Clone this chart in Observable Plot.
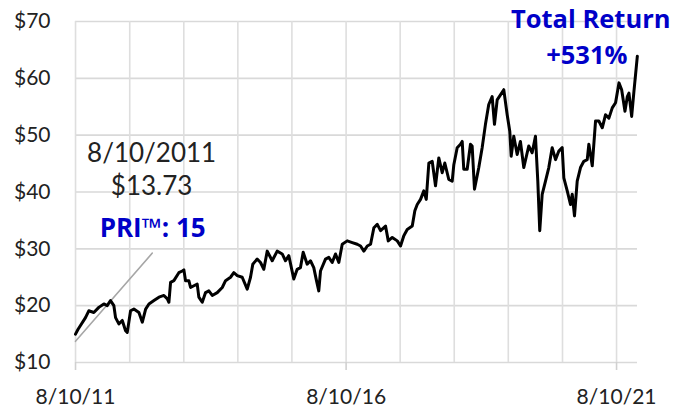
<!DOCTYPE html>
<html><head><meta charset="utf-8">
<script src="https://cdn.jsdelivr.net/npm/d3@7"></script>
<script src="https://cdn.jsdelivr.net/npm/@observablehq/plot@0.6"></script>
<style>body{margin:0;background:#fff;}</style>
</head><body><div id="chart"></div>
<script>
// Price series: decimal year, price ($)
const years = [2011.605, 2011.650, 2011.697, 2011.790, 2011.851, 2011.944, 2012.036, 2012.129, 2012.191, 2012.252,
  2012.314, 2012.345, 2012.406, 2012.469, 2012.530, 2012.561, 2012.622, 2012.683, 2012.776, 2012.839,
  2012.900, 2012.961, 2013.053, 2013.146, 2013.238, 2013.301, 2013.330, 2013.361, 2013.422, 2013.514,
  2013.577, 2013.607, 2013.638, 2013.699, 2013.731, 2013.792, 2013.854, 2013.884, 2013.947, 2014.008,
  2014.069, 2014.132, 2014.224, 2014.317, 2014.378, 2014.470, 2014.531, 2014.594, 2014.686, 2014.779,
  2014.840, 2014.882, 2014.963, 2015.025, 2015.086, 2015.149, 2015.241, 2015.333, 2015.426, 2015.487,
  2015.548, 2015.640, 2015.703, 2015.764, 2015.814, 2015.888, 2015.949, 2016.010, 2016.060, 2016.102,
  2016.134, 2016.226, 2016.287, 2016.350, 2016.411, 2016.472, 2016.535, 2016.627, 2016.720, 2016.812,
  2016.873, 2016.934, 2016.997, 2017.058, 2017.119, 2017.182, 2017.243, 2017.335, 2017.385, 2017.459,
  2017.552, 2017.612, 2017.673, 2017.736, 2017.829, 2017.877, 2017.921, 2017.982, 2018.043, 2018.088,
  2018.136, 2018.198, 2018.259, 2018.320, 2018.383, 2018.431, 2018.505, 2018.568, 2018.598, 2018.660,
  2018.721, 2018.753, 2018.782, 2018.845, 2018.906, 2018.937, 2018.980, 2019.060, 2019.122, 2019.183,
  2019.244, 2019.307, 2019.350, 2019.400, 2019.461, 2019.522, 2019.585, 2019.633, 2019.659, 2019.707,
  2019.770, 2019.830, 2019.892, 2019.984, 2020.047, 2020.108, 2020.151, 2020.187, 2020.232, 2020.293,
  2020.354, 2020.416, 2020.478, 2020.539, 2020.601, 2020.631, 2020.694, 2020.754, 2020.786, 2020.828,
  2020.878, 2020.939, 2021.000, 2021.063, 2021.093, 2021.156, 2021.217, 2021.278, 2021.341, 2021.402,
  2021.464, 2021.526, 2021.587, 2021.650, 2021.700, 2021.761, 2021.805, 2021.835, 2021.885, 2021.927,
  2021.990];
const prices = [15.0, 15.8, 16.5, 17.9, 19.1, 18.8, 19.7, 20.3, 20.0, 20.9,
  20.0, 17.9, 16.8, 17.4, 15.6, 15.3, 19.1, 19.4, 18.8, 17.1,
  19.4, 20.3, 20.9, 21.5, 21.8, 21.2, 20.6, 24.1, 24.4, 25.8,
  26.1, 26.3, 24.4, 24.4, 23.2, 23.5, 23.8, 21.5, 20.6, 22.3,
  22.6, 21.8, 22.3, 23.2, 24.4, 25.0, 25.8, 25.3, 25.0, 22.9,
  25.0, 27.3, 28.2, 27.6, 26.4, 29.6, 27.9, 29.6, 29.1, 27.9,
  28.8, 24.7, 26.4, 26.7, 29.4, 27.3, 27.9, 26.7, 24.4, 22.6,
  26.1, 28.2, 28.5, 27.6, 29.1, 27.6, 30.8, 31.4, 31.1, 30.8,
  30.5, 29.6, 30.5, 30.8, 33.7, 34.3, 33.2, 34.0, 31.4, 32.0,
  31.4, 30.5, 32.3, 33.4, 34.0, 36.7, 37.8, 38.7, 40.2, 38.7,
  45.1, 45.4, 41.1, 46.0, 43.4, 45.1, 42.2, 41.9, 44.8, 47.8,
  48.4, 48.9, 44.0, 44.0, 48.4, 48.1, 40.5, 44.3, 47.8, 51.9,
  55.4, 56.8, 51.9, 56.2, 57.1, 58.0, 53.6, 50.7, 46.3, 49.8,
  46.6, 48.9, 44.3, 48.1, 46.9, 49.8, 41.9, 33.2, 39.6, 41.9,
  44.3, 47.8, 45.7, 47.2, 47.8, 42.5, 40.2, 37.8, 39.6, 35.8,
  41.9, 44.3, 45.4, 45.7, 48.4, 44.6, 52.5, 52.5, 51.3, 53.6,
  53.0, 54.8, 55.7, 59.2, 58.0, 54.2, 56.8, 57.4, 53.3, 57.7,
  63.9];

const yTicks = [10, 20, 30, 40, 50, 60, 70];
const gridYears = [2011, 2012, 2013, 2014, 2015, 2016, 2017, 2018, 2019, 2020, 2021];
const labelYears = [2011, 2016, 2021];
const domainYears = [2011.605, 2021.993];

// PRI trend line endpoints
const priYears = [2011.605, 2013.023];
const priPrices = [13.73, 29.25];

// Annotation texts
const startDateText = "8/10/2011";
const startPriceText = "$13.73";
const priText = "PRI™: 15";
const totalText = "Total Return";
const returnText = "+531%";

function dec(y) {
  const Y = Math.floor(y);
  const s = Date.UTC(Y, 0, 1), e = Date.UTC(Y + 1, 0, 1);
  return new Date(s + (y - Y) * (e - s));
}
const aug10 = y => new Date(Date.UTC(y, 7, 10));

const series = years.map((t, i) => ({date: dec(t), price: prices[i]}));
const pri = priYears.map((t, i) => ({date: dec(t), price: priPrices[i]}));

const blue = "#0000c8";
const plainNotes = [
  {t: 2013.01, p: 46.7, label: startDateText},
  {t: 2013.01, p: 40.9, label: startPriceText}
];
const boldMid = [{t: 2013.03, p: 33.6, label: priText}];
const boldRight = [
  {t: 2022.603, p: 70.35, label: totalText},
  {t: 2021.808, p: 64.0, label: returnText}
];

const fmt = d => `${d.getUTCMonth() + 1}/${d.getUTCDate()}/${String(d.getUTCFullYear()).slice(2)}`;

const chart = Plot.plot({
  width: 686, height: 412,
  marginLeft: 75, marginRight: 49, marginTop: 21, marginBottom: 50,
  x: {type: "utc", domain: domainYears.map(dec)},
  y: {domain: [10, 70]},
  style: {fontFamily: "Lato, sans-serif", fontSize: "21px", color: "#222", background: "#fff"},
  marks: [
    Plot.gridY(yTicks, {stroke: "#d9d9d9", strokeOpacity: 1, strokeWidth: 1.6}),
    Plot.gridX(gridYears.map(aug10), {stroke: "#dedede", strokeOpacity: 1, strokeWidth: 1.6}),
    Plot.axisY(yTicks, {tickSize: 0, tickPadding: 25, tickFormat: d => "$" + d, label: null, fill: "#222"}),
    Plot.axisX(labelYears.map(aug10), {tickSize: 8, tickPadding: 19, tickFormat: fmt, label: null, stroke: "#d0d0d0", strokeWidth: 1.6, fill: "#222"}),
    Plot.line(pri, {x: "date", y: "price", stroke: "#a6a6a6", strokeWidth: 1.6}),
    Plot.line(series, {x: "date", y: "price", stroke: "#000", strokeWidth: 3, strokeLinejoin: "round"}),
    Plot.text(plainNotes, {x: d => dec(d.t), y: "p", text: "label", fontSize: 26, fill: "#222", fontFamily: "Lato, sans-serif"}),
    Plot.text(boldMid, {x: d => dec(d.t), y: "p", text: "label", fontSize: 26, fontWeight: 700, fill: blue, fontFamily: "Open Sans, sans-serif"}),
    Plot.text(boldRight, {x: d => dec(d.t), y: "p", text: "label", textAnchor: "end", fontSize: 25.5, fontWeight: 700, fill: blue, fontFamily: "Open Sans, sans-serif"})
  ]
});
document.getElementById("chart").appendChild(chart);
</script>
</body></html>
